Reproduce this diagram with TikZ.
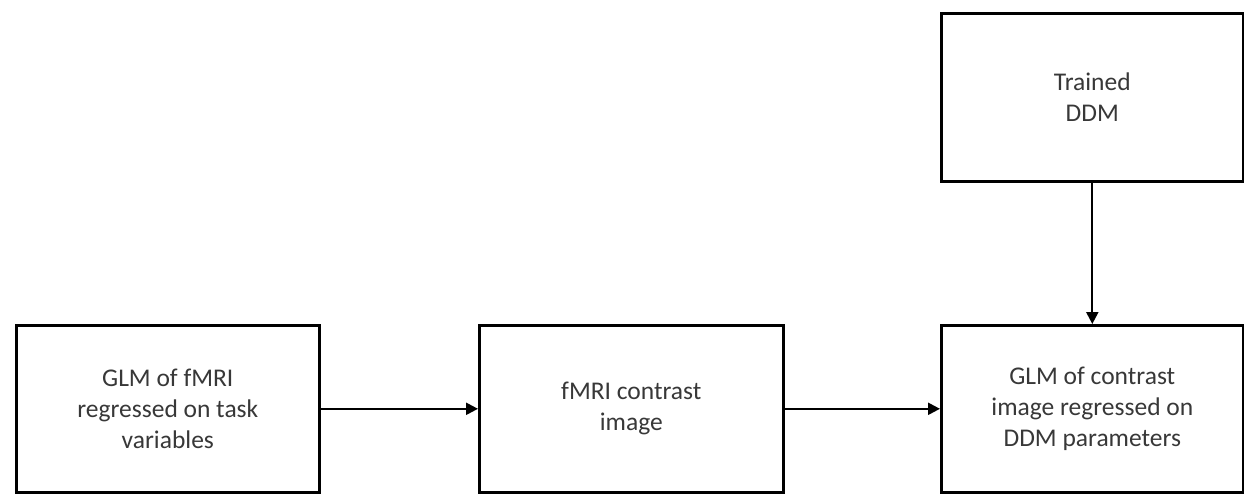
\documentclass[tikz,border=0pt]{standalone}
\usepackage{fontspec}
\setmainfont{Carlito}
\usetikzlibrary{arrows.meta}
\definecolor{txt}{HTML}{383838}
\begin{document}
\begin{tikzpicture}[x=1pt,y=-1pt,
  box/.style={draw=black, line width=2.6pt, fill=white, anchor=north west,
    align=center, text=txt, inner sep=0pt,
    font=\fontsize{25.5}{31}\selectfont},
  arr/.style={draw=black, line width=2.2pt, -{Triangle[length=12pt,width=12pt]}}]
\useasboundingbox (0,0) rectangle (1244,493);
\fill[white] (0,0) rectangle (1244,493);
\node[box, minimum width=303pt, minimum height=167pt] (A) at (15,324)
  {GLM of fMRI\\regressed on task\\variables};
\node[box, minimum width=304pt, minimum height=167pt] (B) at (478,324)
  {fMRI contrast\\image};
\node[box, minimum width=302pt, minimum height=167pt] (C) at (940,324)
  {GLM of contrast\\image regressed on\\DDM parameters};
\node[box, minimum width=302pt, minimum height=168pt] (D) at (940,12)
  {Trained\\DDM};
\draw[arr] (A.east) -- (B.west);
\draw[arr] (B.east) -- (C.west);
\draw[arr] (D.south) -- (C.north);
\end{tikzpicture}
\end{document}
